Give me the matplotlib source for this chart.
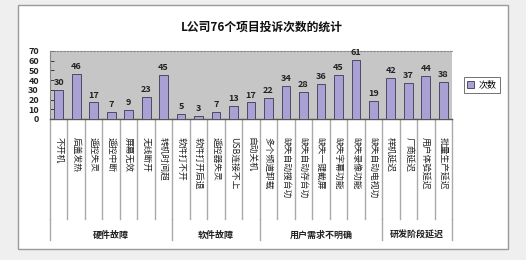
import matplotlib
matplotlib.use("Agg")
import matplotlib.pyplot as plt
import matplotlib.transforms as mtransforms
from matplotlib.patches import Rectangle

plt.rcParams['font.family'] = ['Noto Sans CJK SC', 'DejaVu Sans']

title = 'L公司76个项目投诉次数的统计'
groups = ['硬件故障', '软件故障', '用户需求不明确', '研发阶段延迟']
hw = ['不开机', '后盖发热', '遥控失灵', '遥控中断', '屏幕无效', '无线断开', '转机时间超']
sw = ['软件打不开', '软件打开后退', '遥控器失灵', 'USB连接不上', '自动关机']
user = ['多个频道卸载', '缺失自动搜台功', '缺失自动存台功', '缺失一键截屏', '缺失字幕功能', '缺失录像功能', '缺失自动电视功']
rd = ['样机延迟', '厂商延迟', '用户体验延迟', '批量生产延迟']
values = [30, 46, 17, 7, 9, 23, 45,
          5, 3, 7, 13, 17,
          22, 34, 28, 36, 45, 61, 19,
          42, 37, 44, 38]
series_name = '次数'
yticks = [0, 10, 20, 30, 40, 50, 60, 70]

cats = hw + sw + user + rd
group_sizes = [len(hw), len(sw), len(user), len(rd)]

W, H = 526, 260
fig = plt.figure(figsize=(W / 100, H / 100), dpi=100)
fig.patch.set_facecolor('#efefef')

# white chart frame
fig.add_artist(Rectangle((18 / W, 1 - 249 / H), (508 - 18) / W, (249 - 5) / H,
                         transform=fig.transFigure, facecolor='white',
                         edgecolor='#9a9a9a', lw=1.0, zorder=-5))

x0, x1, ytop, ybot = 50, 452, 51, 119
ax = fig.add_axes([x0 / W, 1 - ybot / H, (x1 - x0) / W, (ybot - ytop) / H])
ax.set_zorder(2)
ax.set_facecolor('#c6c6c6')

n = len(cats)
xs = list(range(n))
bars = ax.bar(xs, values, width=0.5, color='#a9a1d4', edgecolor='#3a3a55', lw=0.6,
              label=series_name, zorder=3)
for x, v in zip(xs, values):
    ax.text(x, v + 3, str(v), ha='center', va='bottom', fontsize=6.5,
            fontweight='bold', color='#222222')

ax.set_xlim(-0.5, n - 0.5)
ax.set_ylim(0, 70)
ax.set_yticks(yticks)
ax.set_yticklabels([str(t) for t in yticks], fontsize=6.5, fontweight='bold')
ax.tick_params(axis='y', direction='in', length=3, pad=8, colors='#222222', width=0.6)
ax.set_xticks([])
ax.spines['right'].set_visible(False)
ax.spines['top'].set_linestyle((0, (1.5, 1.5)))
ax.spines['top'].set_color('#888888')
ax.spines['top'].set_linewidth(0.8)
ax.spines['left'].set_color('#888888')
ax.spines['bottom'].set_color('#555555')
ax.spines['bottom'].set_linewidth(1.0)

trans = mtransforms.blended_transform_factory(ax.transData, ax.transAxes)
# category separators and labels
for i in range(n + 1):
    ax.plot([i - 0.5, i - 0.5], [0, -1.47], transform=trans, color='#aaaaaa',
            lw=1.0, clip_on=False)
for i, c in enumerate(cats):
    ax.text(i, -0.26, c, transform=trans, rotation=270, ha='center', va='top',
            fontsize=6.3, color='#222222')

# group separators and labels
start = 0
bounds = [0]
for g in group_sizes:
    start += g
    bounds.append(start)
for b in bounds:
    ax.plot([b - 0.5, b - 0.5], [-1.47, -1.78], transform=trans, color='#aaaaaa',
            lw=1.0, clip_on=False)
for gi, g in enumerate(groups):
    mid = (bounds[gi] + bounds[gi + 1] - 1) / 2
    ax.text(mid, -1.71, g, transform=trans, ha='center', va='center',
            fontsize=6.5, fontweight='bold', color='#222222')

fig.text(262 / W, 1 - 27 / H, title, ha='center', va='center', fontsize=8.5,
         fontweight='bold', color='#111111')

leg = fig.legend(handles=[bars], labels=[series_name], loc='center',
                 bbox_to_anchor=(482 / W, 1 - 85 / H), fontsize=6.5, frameon=True,
                 fancybox=False, edgecolor='#333333', handlelength=0.8,
                 handleheight=0.9, borderpad=0.4, handletextpad=0.5)
leg.get_frame().set_linewidth(0.6)

fig.savefig('out.png', dpi=100, facecolor=fig.get_facecolor())
